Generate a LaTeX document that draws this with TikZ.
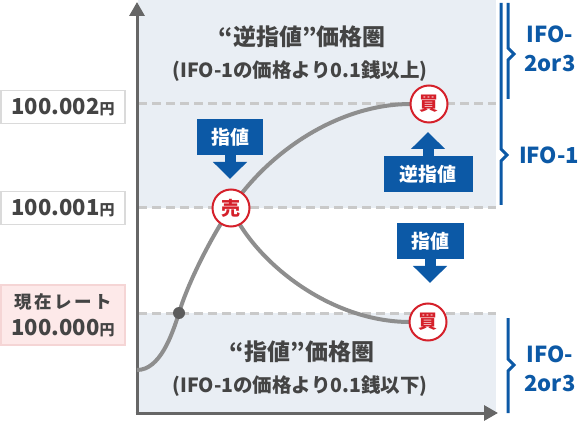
\documentclass[tikz,border=0pt]{standalone}
\usepackage{fontspec}
\setmainfont{Noto Sans CJK JP}
\newfontfamily\cjk{Noto Sans CJK JP}
\usetikzlibrary{arrows.meta}
\definecolor{shadec}{HTML}{E9EEF4}
\definecolor{dashc}{HTML}{C9C9C9}
\definecolor{axisc}{HTML}{666666}
\definecolor{curvec}{HTML}{8E8E8E}
\definecolor{redc}{HTML}{D5202A}
\definecolor{bluec}{HTML}{0C59A6}
\definecolor{txt}{HTML}{444444}
\definecolor{pinkf}{HTML}{FDE9E9}
\definecolor{pinkb}{HTML}{F5D5D5}
\definecolor{boxb}{HTML}{DADADA}
\tikzset{
 lbl/.style={draw=boxb, line width=1.5pt, fill=white, minimum width=124pt, minimum height=33pt, inner sep=0pt, text=txt},
 bbox/.style={fill=bluec, text=white, inner sep=0pt, minimum height=36pt, font=\cjk\bfseries\fontsize{19}{19}\selectfont},
 barrow/.style={draw=bluec, line width=11pt, -{Triangle[length=17pt,width=33pt]}},
 circ/.style={circle, draw=redc, line width=2pt, fill=white, minimum size=37pt, inner sep=0pt, text=redc, font=\cjk\bfseries\fontsize{19}{19}\selectfont},
 dot/.style={circle, fill=axisc!90!black, minimum size=12pt, inner sep=0pt},
 bracec/.style={draw=bluec, line width=3pt, line join=miter},
 ifo/.style={text=bluec, font=\bfseries\fontsize{22}{29}\selectfont, align=center},
 dline/.style={draw=dashc, line width=3pt, dash pattern=on 9pt off 5pt},
 curve/.style={draw=curvec, line width=4pt},
 axisl/.style={draw=axisc, line width=3pt, -{Triangle[length=14pt,width=15pt]}},
 ttl/.style={text=txt, font=\cjk\bfseries\fontsize{23}{23}\selectfont},
 sub/.style={text=txt, font=\cjk\bfseries\fontsize{19.5}{19.5}\selectfont},
 numf/.style={text=txt, font=\bfseries\fontsize{22}{22}\selectfont},
}
\begin{document}
\begin{tikzpicture}[x=1pt,y=-1pt]
\useasboundingbox (0,0) rectangle (580,427);
% shading
\fill[shadec] (138,0) rectangle (496,208);
\fill[shadec] (138,313) rectangle (496,412);
% dashed levels
\coordinate (L2a) at (138,104); \coordinate (L2b) at (496,104);
\coordinate (L1a) at (138,208); \coordinate (L1b) at (496,208);
\coordinate (L0a) at (138,313); \coordinate (L0b) at (496,313);
\draw[dline] (L2a) -- (L2b);
\draw[dline] (L1a) -- (L1b);
\draw[dline] (L0a) -- (L0b);
% axes
\coordinate (O) at (137,413);
\coordinate (Yt) at (137,2);
\coordinate (Xt) at (498,413);
\draw[axisl] ([yshift=1.5pt]O) -- (Yt);
\draw[axisl] ([xshift=-1.5pt]O) -- (Xt);
% titles
\node[ttl] (t1) at (302,37) {“逆指値”価格圏};
\node[sub] (t2) at (300,71) {(IFO-1の価格より0.1銭以上)};
\node[ttl] (t3) at (302,352) {“指値”価格圏};
\node[sub] (t4) at (300,386) {(IFO-1の価格より0.1銭以下)};
% curve
\coordinate (A) at (137,370);
\coordinate (Dp) at (179,313);
\coordinate (Sp) at (231,208);
\coordinate (E1) at (411,104);
\coordinate (E2) at (410,322);
\draw[curve] (A) .. controls (160,370) and (172,335) .. (Dp) .. controls (187,285) and (211,237) .. (Sp) .. controls (270,150) and (340,104) .. (E1);
\draw[curve] (Sp) .. controls (255,262) and (330,322) .. (E2);
\node[dot] (D) at (Dp) {};
\node[circ] (S) at (Sp) {売};
\node[circ] (B1) at (429,104) {買};
\node[circ] (B2) at (428,322) {買};
% blue arrow boxes
\node[bbox, minimum width=66pt] (n1) at (230,137) {指値};
\coordinate (n1t) at (230,179);
\draw[barrow] (n1.south) -- (n1t);
\node[bbox, minimum width=89pt] (n2) at (428,174) {逆指値};
\coordinate (n2t) at (428,132);
\draw[barrow] (n2.north) -- (n2t);
\node[bbox, minimum width=67pt] (n3) at (430,241) {指値};
\coordinate (n3t) at (430,283);
\draw[barrow] (n3.south) -- (n3t);
% left labels
\node[lbl, numf] (p2) at (63,107) {100.002{\fontsize{15}{15}\selectfont 円}};
\node[lbl, numf] (p1) at (63,208) {100.001{\fontsize{15}{15}\selectfont 円}};
\node[lbl, draw=pinkb, fill=pinkf, minimum height=60pt] (p0) at (63,315) {};
\node[text=txt, font=\bfseries\fontsize{17.5}{17.5}\selectfont] (p0a) at (63,302) {現\kern2.5pt 在\kern2.5pt レ\kern2.5pt ー\kern2.5pt ト};
\node[numf] (p0b) at (63,328) {100.000{\fontsize{15}{15}\selectfont 円}};
% right braces
\coordinate (b1a) at (508,3); \coordinate (b1b) at (508,99);
\draw[bracec] (b1a) -- (508,48) -- (514,54) -- (508,60) -- (b1b);
\coordinate (b2a) at (501,3); \coordinate (b2b) at (501,205);
\draw[bracec] (b2a) -- (501,149) -- (507,155) -- (501,161) -- (b2b);
\coordinate (b3a) at (508,318); \coordinate (b3b) at (508,413);
\draw[bracec] (b3a) -- (508,359) -- (514,365) -- (508,371) -- (b3b);
\node[ifo] (i1) at (550,49) {IFO-\\2or3};
\node[ifo] (i2) at (549,155) {IFO-1};
\node[ifo] (i3) at (550,369) {IFO-\\2or3};
\end{tikzpicture}
\end{document}
